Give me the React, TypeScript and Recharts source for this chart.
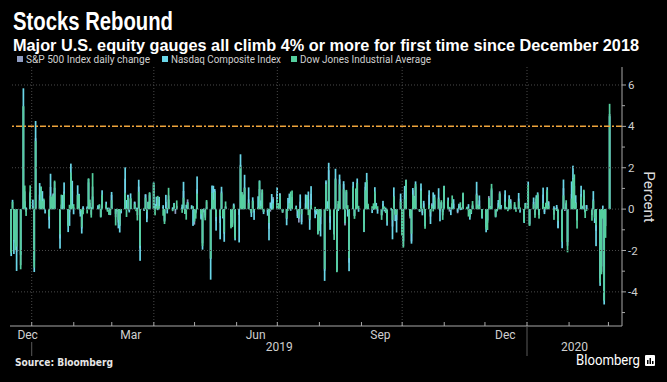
import React from "react";
import { BarChart, Bar, XAxis, YAxis, ReferenceLine } from "recharts";

const TITLE = "Stocks Rebound";
const SUBTITLE = "Major U.S. equity gauges all climb 4% or more for first time since December 2018";
const SOURCE = "Source: Bloomberg";

const seriesNames = ["S&P 500 Index daily change", "Nasdaq Composite Index", "Dow Jones Industrial Average"];
const seriesColors = ["#8e9cc2", "#6ad6e8", "#55cf9e"];

// trading calendar
const firstDay = "2018-12-17";
const lastDay = "2020-03-02";
const holidays = [
  "2018-12-25", "2019-01-01", "2019-01-21", "2019-02-18", "2019-04-19", "2019-05-27", "2019-07-04",
  "2019-09-02", "2019-11-28", "2019-12-25", "2020-01-01", "2020-01-20", "2020-02-17",
];

// daily % change, one line per month
const spx = [
  -2.08, 0.01, -1.54, -1.58, -2.06, -2.71, 4.96, 0.86, -0.12, 0.85,
  0.13, -2.48, 3.43, 0.7, 0.97, 0.41, 0.45, -0.01, -0.53, 1.07, 0.22, 0.76, 1.32, -1.42, 0.22, 0.14, 0.85, -0.78, -0.15, 1.55, 0.86,
  0.09, 0.68, 0.47, -0.22, -0.94, 0.07, 0.07, 1.29, 0.3, -0.27, 1.09, 0.15, 0.18, -0.35, 0.64, 0.12, -0.08, -0.05, -0.28,
  0.69, -0.39, -0.11, -0.65, -0.81, -0.21, 1.47, 0.3, 0.69, -0.09, 0.5, 0.37, -0.01, -0.29, 1.09, -1.9, -0.08, 0.72, -0.46, 0.36, 0.67,
  1.16, 0.0, 0.21, 0.21, 0.46, 0.1, -0.61, 0.35, 0.0, 0.66, -0.06, 0.05, -0.23, 0.16, 0.1, 0.88, -0.22, -0.04, 0.47, 0.11, 0.1,
  -0.75, -0.21, 0.96, -0.45, -1.65, -0.16, -0.3, 0.37, -2.41, 0.8, 0.58, 0.89, -0.58, -0.67, 0.85, -0.28, -1.19, 0.14, -0.84, -0.69, 0.21, -1.32,
  -0.28, 2.14, 0.82, 0.61, 1.05, 0.47, -0.03, -0.2, 0.41, -0.16, 0.09, 0.97, 0.3, 0.95, -0.13, -0.17, -0.95, -0.12, 0.38, 0.58,
  0.77, 0.29, 0.77, -0.18, -0.48, 0.12, 0.45, 0.23, 0.46, 0.02, -0.34, -0.65, 0.36, -0.62, 0.28, 0.68, 0.47, -0.53, 0.74, -0.16, -0.26, -1.09,
  -0.9, -0.73, -2.98, 1.3, 0.08, 1.88, -0.66, -1.23, 1.48, -2.93, 0.25, 1.44, 1.21, -0.79, 0.82, -0.05, -2.59, 1.1, -0.32, 0.65, 1.27, 0.06,
  -0.69, 1.08, 1.3, 0.09, -0.01, 0.03, 0.72, 0.29, -0.07, -0.31, 0.26, 0.03, 0.0, -0.49, -0.01, -0.84, 0.62, -0.24, -0.53, 0.5,
  -1.23, -1.79, 0.8, 1.42, -0.45, -1.56, 0.91, 0.64, 1.09, -0.14, 1.0, -0.2, 0.28, -0.39, 0.69, -0.36, 0.28, 0.19, 0.41, 0.56, -0.08, 0.33, -0.3,
  0.97, 0.37, -0.12, 0.07, 0.27, 0.26, -0.2, 0.16, 0.07, 0.08, 0.77, 0.05, -0.06, -0.38, -0.16, 0.22, 0.75, 0.22, 0.42, -0.4,
  -0.86, -0.66, 0.63, 0.15, 0.91, -0.32, -0.11, 0.29, 0.86, 0.01, 0.71, 0.03, -0.04, 0.45, 0.49, 0.09, -0.02, 0.51, 0.0, -0.58, 0.29,
  0.84, -0.71, 0.35, -0.28, 0.49, 0.67, -0.29, 0.7, -0.15, 0.19, 0.84, 0.39, -0.27, 0.03, 0.11, -0.9, -1.57, 1.01, -0.09, 0.31, -1.77,
  0.73, 1.5, 1.13, 0.33, -0.54, 0.73, 0.17, 0.65, -0.16, 0.18, -0.29, 0.47, -0.38, -1.05, -3.35, -3.03, -0.38, -4.42, -0.82,
  4.6,
];

const ccmp = [
  -2.27, 0.45, -2.17, -1.63, -2.99, -2.21, 5.84, 0.38, 0.08, 0.77,
  0.46, -3.04, 4.26, 1.26, 1.08, 0.87, 0.42, -0.21, -0.94, 1.71, 0.15, 0.71, 1.03, -1.91, 0.08, 0.68, 1.29, -1.11, -0.81, 2.2, 1.37,
  -0.25, 1.15, 0.74, -0.36, -1.18, 0.14, 0.13, 1.46, 0.08, 0.09, 0.61, 0.19, 0.03, -0.39, 0.91, 0.36, 0.07, 0.07, -0.29,
  0.83, -0.23, 0.02, -0.93, -1.13, -0.18, 2.02, 0.44, 0.69, -0.16, 0.76, 0.34, 0.07, 0.07, 1.42, -2.5, -0.07, 0.71, -0.63, 0.34, 0.78,
  1.29, 0.25, 0.6, -0.05, 0.59, 0.19, -0.56, 0.69, -0.21, 0.46, 0.09, 0.3, -0.05, 0.02, 0.22, 1.32, -0.23, 0.21, 0.34, 0.19, -0.81,
  -0.57, -0.16, 1.58, -0.5, -1.96, 0.03, -0.41, 0.08, -3.41, 1.14, 1.13, 0.97, -1.04, -1.46, 1.08, -0.45, -1.58, 0.11, -0.39, -0.79, 0.27, -1.51,
  -1.61, 2.65, 0.64, 0.58, 1.66, 1.05, -0.01, -0.38, 0.57, -0.52, 0.62, 1.39, 0.42, 0.8, -0.24, -0.32, -1.51, 0.32, 0.73, 0.48,
  1.06, 0.22, 0.75, -0.1, -0.78, 0.54, 0.75, -0.08, 0.59, 0.17, -0.43, -0.46, 0.71, -0.74, 0.71, 0.58, 0.85, -1.0, 1.11, -0.44, -0.24, -1.19,
  -0.79, -1.32, -3.47, 1.39, 0.38, 2.24, -1.0, -1.2, 1.95, -3.02, -0.09, 1.67, 1.35, -0.68, 0.9, -0.36, -3.0, 1.32, -0.34, 0.38, 1.48, -0.13,
  -1.11, 1.3, 1.75, 0.17, -0.19, -0.04, 1.06, 0.3, -0.22, -0.28, 0.4, -0.11, 0.07, -0.8, -0.06, -1.46, 1.05, -0.58, -1.13, 0.75,
  -1.13, -1.56, 1.12, 1.4, -0.33, -1.67, 1.02, 0.6, 1.34, -0.1, 1.24, -0.3, 0.4, -0.83, 0.91, -0.72, 0.19, 0.81, 0.7, 1.01, -0.59, 0.33, -0.14,
  1.13, 0.56, 0.02, -0.29, 0.28, 0.48, -0.13, 0.26, -0.05, -0.04, 0.73, 0.11, 0.24, -0.51, -0.24, 0.16, 1.32, 0.18, 0.66, -0.46,
  -1.12, -0.55, 0.54, 0.05, 1.0, -0.4, -0.07, 0.44, 0.73, 0.2, 0.91, 0.1, 0.05, 0.67, 0.43, 0.22, 0.08, 0.78, -0.17, -0.67, 0.3,
  1.33, -0.79, 0.56, -0.03, 0.67, 0.81, -0.27, 1.04, -0.24, 0.08, 1.06, 0.34, 0.14, 0.05, 0.2, -0.93, -1.89, 1.43, 0.06, 0.26, -1.59,
  1.34, 2.1, 0.43, 0.67, -0.54, 1.13, 0.11, 0.9, -0.14, 0.2, 0.02, 0.87, -0.67, -1.79, -3.71, -2.77, 0.17, -4.61, 0.01,
  4.49,
];

const indu = [
  -2.11, 0.35, -1.49, -1.99, -1.81, -2.91, 4.98, 1.14, -0.33, 1.15,
  0.08, -2.83, 3.29, 0.42, 1.09, 0.39, 0.51, -0.02, -0.36, 0.65, 0.59, 0.67, 1.38, -1.22, 0.7, -0.01, 0.75, -0.84, 0.21, 1.77, 0.17,
  0.24, 0.7, 0.68, -0.08, -0.87, -0.25, -0.21, 1.49, 0.46, -0.41, 1.74, 0.03, 0.24, -0.4, 0.7, 0.23, -0.13, -0.28, -0.26,
  0.43, -0.79, -0.05, -0.52, -0.78, -0.09, 0.79, -0.38, 0.58, 0.03, 0.54, 0.25, -0.1, -0.55, 0.84, -1.77, 0.06, 0.55, -0.13, 0.35, 0.82,
  1.27, -0.3, 0.15, 0.64, 0.15, -0.32, -0.72, 0.03, 0.05, 1.03, -0.1, 0.26, -0.01, 0.42, -0.18, 0.55, -0.22, -0.51, 0.31, 0.04, 0.15,
  -0.61, -0.46, 0.75, -0.25, -1.79, 0.01, -0.54, 0.44, -2.38, 0.79, 0.45, 0.84, -0.38, -0.33, 0.77, -0.39, -1.11, 0.37, -0.93, -0.87, 0.17, -1.41,
  0.02, 2.06, 0.82, 0.71, 1.02, 0.3, -0.05, -0.17, 0.4, -0.07, 0.09, 1.35, 0.15, 0.94, -0.13, 0.04, -0.67, -0.04, -0.04, 0.28,
  0.44, 0.26, 0.67, -0.16, -0.43, -0.08, 0.29, 0.85, 0.9, 0.1, -0.09, -0.42, 0.01, -0.25, 0.07, 0.65, -0.29, -0.47, 0.19, 0.11, -0.09, -1.23,
  -1.05, -0.37, -2.9, 1.21, -0.09, 1.43, -0.34, -1.49, 1.44, -3.05, 0.39, 1.2, 0.96, -0.66, 0.93, 0.19, -2.37, 1.05, -0.47, 1.0, 1.25, 0.16,
  -1.08, 0.91, 1.41, 0.26, 0.14, 0.28, 0.85, 0.17, 0.14, -0.52, 0.13, 0.13, -0.19, -0.59, 0.06, -0.53, 0.61, -0.29, -0.27, 0.36,
  -1.28, -1.86, 0.47, 1.42, -0.36, -1.19, 0.7, 0.57, 1.21, -0.11, 0.89, -0.08, 0.09, -0.95, 0.21, -0.15, 0.17, -0.11, 0.57, 0.49, 0.07, 0.43, -0.52,
  1.11, 0.42, 0.11, 0.0, 0.66, 0.02, 0.04, 0.0, 0.33, -0.01, 0.8, 0.11, -0.36, -0.4, -0.2, 0.39, 0.68, 0.2, 0.15, -0.4,
  -0.96, -1.01, 0.53, 0.1, 1.22, -0.38, -0.1, 0.11, 0.79, 0.01, 0.36, 0.11, -0.1, 0.49, 0.28, 0.34, -0.13, 0.37, 0.08, -0.64, 0.27,
  1.16, -0.81, 0.24, -0.42, 0.56, 0.74, -0.46, 0.29, 0.11, 0.31, 0.92, 0.17, -0.52, -0.04, -0.09, -0.58, -1.57, 0.66, 0.04, 0.43, -2.09,
  0.51, 1.44, 1.68, 0.3, -0.94, 0.6, -0.01, 0.94, -0.43, -0.09, -0.56, 0.4, -0.44, -0.78, -3.56, -3.15, -0.46, -4.42, -1.39,
  5.09,
];

const yTicks = [-5, -4, -3, -2, -1, 0, 1, 2, 3, 4, 5, 6];
const yRange = [-5.65, 6.87];
const threshold = 4;

const axisRange = ["2018-12-16", "2020-03-11"];
const monthLabels = ["Dec", "Mar", "Jun", "Sep", "Dec"];
const monthLabelDates = ["2018-12-29", "2019-03-15", "2019-06-15", "2019-09-15", "2019-12-16"];
const yearLabels = ["2019", "2020"];
const yearStarts = ["2019-01-01", "2020-01-01"];
const quarterStarts = ["2019-01-01", "2019-04-01", "2019-07-01", "2019-10-01", "2020-01-01"];

const DAY = 86400000;
const EPOCH = Date.parse("2019-01-01T00:00:00Z");
const day = (iso: string) => Math.round((Date.parse(iso + "T00:00:00Z") - EPOCH) / DAY);

const tradingDays: string[] = [];
for (let t = Date.parse(firstDay + "T00:00:00Z"); t <= Date.parse(lastDay + "T00:00:00Z"); t += DAY) {
  const d = new Date(t);
  const iso = d.toISOString().slice(0, 10);
  const wd = d.getUTCDay();
  if (wd === 0 || wd === 6 || holidays.includes(iso)) continue;
  tradingDays.push(iso);
}

const data = tradingDays.map((iso, i) => ({ date: iso, x: day(iso), spx: spx[i], ccmp: ccmp[i], indu: indu[i] }));

const xDomain = axisRange.map(day);

const monthStarts: number[] = [];
for (let m = 0; m <= 14; m++) {
  const d = new Date(Date.UTC(2019, m, 1));
  monthStarts.push(day(d.toISOString().slice(0, 10)));
}

const labelAt = new Map<number, string>();
monthLabelDates.forEach((d, i) => labelAt.set(day(d), monthLabels[i]));
const yearAt = new Map<number, string>();
yearStarts.forEach((d, i) => {
  const start = day(d);
  const end = i + 1 < yearStarts.length ? day(yearStarts[i + 1]) : xDomain[1];
  yearAt.set((start + end) / 2, yearLabels[i]);
});
const yearStartSet = new Set(yearStarts.map(day));
const monthStartSet = new Set(monthStarts);

const xTicks = Array.from(new Set([...monthStarts, ...labelAt.keys(), ...yearAt.keys()])).sort((a, b) => a - b);

const AXIS = "#a8a8a8";
const GRID = "#4a4a4a";
const TEXT = "#cfcfcf";
const FONT = "Roboto, 'Liberation Sans', sans-serif";
const BAR_W = 1.7;

const XTick = (props: any) => {
  const { x, y, payload } = props;
  const v = payload.value;
  const nearLabel = Array.from(labelAt.keys()).some((k) => Math.abs(k - v) < 6);
  return (
    <g>
      {monthStartSet.has(v) && <line x1={x} x2={x} y1={y - 4} y2={y} stroke={AXIS} strokeWidth={1} />}
      {yearStartSet.has(v) && (
        <line x1={x} x2={x} y1={nearLabel ? y + 16 : y} y2={y + 30} stroke="#5a5a5a" strokeWidth={1} />
      )}
      {labelAt.has(v) && (
        <text x={x} y={y + 13} textAnchor="middle" fill={TEXT} fontSize={12} fontFamily={FONT}>
          {labelAt.get(v)}
        </text>
      )}
      {yearAt.has(v) && (
        <text x={x} y={y + 25} textAnchor="middle" fill={TEXT} fontSize={12} fontFamily={FONT}>
          {yearAt.get(v)}
        </text>
      )}
    </g>
  );
};

const YTick = (props: any) => {
  const { x, y, payload } = props;
  const v = payload.value;
  const major = v % 2 === 0;
  return (
    <g>
      <line x1={x} x2={x + (major ? 4 : 3)} y1={y} y2={y} stroke={AXIS} strokeWidth={1} />
      {major && (
        <text x={x + 6} y={y} dy="0.35em" fill={TEXT} fontSize={11.5} fontFamily={FONT}>
          {v}
        </text>
      )}
    </g>
  );
};

// thin bar centred on the position the library computed
const SlimBar = (props: any) => {
  const { x, y, width, height, fill } = props;
  if (x == null || y == null) return null;
  const top = Math.min(y, y + height);
  const h = Math.abs(height);
  return <rect x={x + width / 2 - BAR_W / 2} y={top} width={BAR_W} height={h} fill={fill} />;
};

const legendX = [17, 162, 291];
const legendW = [124, 110, 131];

export default function App() {
  return (
    <div style={{ position: "absolute", left: 0, top: 0, width: 667, height: 382, background: "#000", overflow: "hidden" }}>
      <BarChart width={667} height={382} data={data} margin={{ top: 67, right: 0, bottom: 0, left: 10 }}>
        <XAxis
          xAxisId="a"
          dataKey="x"
          type="number"
          domain={xDomain}
          allowDataOverflow
          ticks={xTicks}
          interval={0}
          tick={<XTick />}
          tickSize={0}
          tickMargin={0}
          tickLine={false}
          axisLine={{ stroke: AXIS }}
          height={56}
        />
        <XAxis xAxisId="b" orientation="top" height={0} dataKey="x" type="number" domain={xDomain} allowDataOverflow hide />
        <XAxis xAxisId="c" orientation="top" height={0} dataKey="x" type="number" domain={xDomain} allowDataOverflow hide />
        <YAxis
          orientation="right"
          type="number"
          domain={yRange}
          allowDataOverflow
          ticks={yTicks}
          interval={0}
          tick={<YTick />}
          tickSize={0}
          tickMargin={0}
          tickLine={false}
          axisLine={{ stroke: AXIS }}
          width={45}
        />
        {yTicks
          .filter((t) => t % 2 === 0 && t !== threshold)
          .map((t) => (
            <ReferenceLine key={"h" + t} xAxisId="a" y={t} stroke={GRID} strokeDasharray="1 2" />
          ))}
        {quarterStarts.map((d) => (
          <ReferenceLine key={"v" + d} xAxisId="a" x={day(d)} stroke={GRID} strokeDasharray="1 2" />
        ))}
        <Bar xAxisId="a" dataKey="spx" name={seriesNames[0]} fill={seriesColors[0]} barSize={1} shape={<SlimBar />} isAnimationActive={false} />
        <Bar xAxisId="b" dataKey="ccmp" name={seriesNames[1]} fill={seriesColors[1]} barSize={1} shape={<SlimBar />} isAnimationActive={false} />
        <Bar xAxisId="c" dataKey="indu" name={seriesNames[2]} fill={seriesColors[2]} barSize={1} shape={<SlimBar />} isAnimationActive={false} />
        <ReferenceLine xAxisId="a" y={threshold} stroke="#eea43c" strokeWidth={1.5} strokeDasharray="6 2 2 2" />
      </BarChart>
      <svg width={667} height={382} style={{ position: "absolute", left: 0, top: 0, pointerEvents: "none" }}>
        <text x={13} y={30} fill="#fff" fontSize={25} fontWeight={700} fontFamily="'Liberation Sans', sans-serif" textLength={160} lengthAdjust="spacingAndGlyphs">
          {TITLE}
        </text>
        <text x={13} y={51} fill="#fff" fontSize={16.5} fontWeight={700} fontFamily="'Liberation Sans', sans-serif" textLength={626} lengthAdjust="spacingAndGlyphs">
          {SUBTITLE}
        </text>
        {seriesNames.map((n, i) => (
          <g key={n}>
            <rect x={legendX[i]} y={56} width={6} height={6} fill={seriesColors[i]} />
            <text x={legendX[i] + 9} y={63} fill={TEXT} fontSize={10} fontFamily={FONT} textLength={legendW[i]} lengthAdjust="spacingAndGlyphs">
              {n}
            </text>
          </g>
        ))}
        <text x={649} y={197} fill="#dcdcdc" fontSize={15} fontFamily={FONT} textAnchor="middle" transform="rotate(90 649 197)" dy="0.35em">
          Percent
        </text>
        <text x={15} y={366} fill="#e6e6e6" fontSize={11} fontWeight={700} fontFamily="'DejaVu Sans', sans-serif" textLength={98} lengthAdjust="spacingAndGlyphs">
          {SOURCE}
        </text>
        <text x={576} y={365} fill="#fff" fontSize={14} fontFamily={FONT} textLength={64} lengthAdjust="spacingAndGlyphs">
          Bloomberg
        </text>
        <rect x={645} y={355} width={10} height={11} rx={1} fill="#fff" />
        <rect x={647} y={360} width={1.5} height={4} fill="#000" />
        <rect x={649.5} y={358} width={1.5} height={6} fill="#000" />
        <rect x={652} y={361} width={1.5} height={3} fill="#000" />
      </svg>
    </div>
  );
}
